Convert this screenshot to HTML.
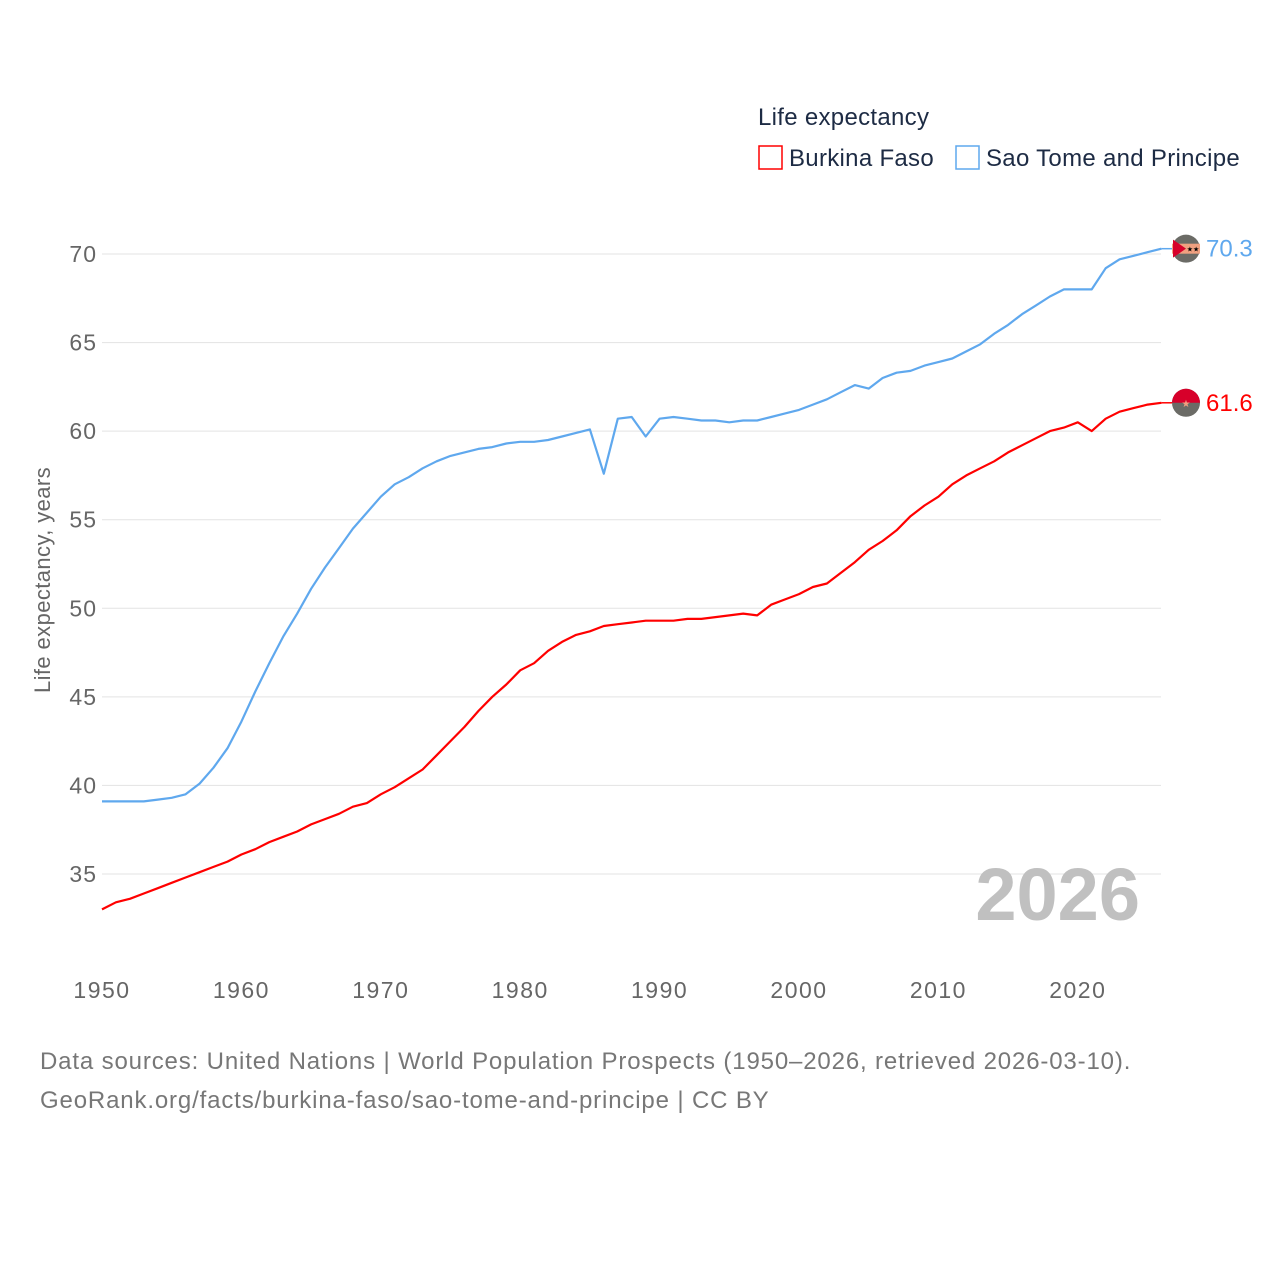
<!DOCTYPE html>
<html><head><meta charset="utf-8"><style>
body{margin:0;background:#fff;width:1280px;height:1280px;overflow:hidden;font-family:"Liberation Sans",sans-serif}
</style></head><body>
<svg width="1280" height="1280" style="position:absolute;left:0;top:0">
<g font-family="Liberation Sans, sans-serif">
<text x="758" y="125" font-size="24" letter-spacing="0.3" fill="#1d2b44">Life expectancy</text>
<g><rect x="759" y="146" width="23" height="23" fill="none" stroke="#ff0000" stroke-width="1.5"/><text x="789" y="166" font-size="24" letter-spacing="0.3" fill="#1d2b44">Burkina Faso</text></g>
<g><rect x="956" y="146" width="23" height="23" fill="none" stroke="#5fa8ee" stroke-width="1.5"/><text x="986" y="166" font-size="24" letter-spacing="0.3" fill="#1d2b44">Sao Tome and Principe</text></g>
<text transform="translate(50,580) rotate(-90)" text-anchor="middle" font-size="22" letter-spacing="0.4" fill="#666">Life expectancy, years</text>
<g id="grid"></g><g id="yt"></g><g id="xt"></g>
<text x="1140" y="920" text-anchor="end" font-size="74" font-weight="bold" fill="#c0c0c0">2026</text>
<g id="lines"></g>
<text x="40" y="1069" font-size="24" letter-spacing="0.85" fill="#777">Data sources: United Nations | World Population Prospects (1950–2026, retrieved 2026-03-10).</text>
<text x="40" y="1108" font-size="24" letter-spacing="0.85" fill="#777">GeoRank.org/facts/burkina-faso/sao-tome-and-principe | CC BY</text>
</g></svg>
<script>
const yTicks=[35,40,45,50,55,60,65,70];
const xTicks=[1950,1960,1970,1980,1990,2000,2010,2020];
const startYear=1950;
const burkina=[33.0,33.4,33.6,33.9,34.2,34.5,34.8,35.1,35.4,35.7,36.1,36.4,36.8,37.1,37.4,37.8,38.1,38.4,38.8,39.0,39.5,39.9,40.4,40.9,41.7,42.5,43.3,44.2,45.0,45.7,46.5,46.9,47.6,48.1,48.5,48.7,49.0,49.1,49.2,49.3,49.3,49.3,49.4,49.4,49.5,49.6,49.7,49.6,50.2,50.5,50.8,51.2,51.4,52.0,52.6,53.3,53.8,54.4,55.2,55.8,56.3,57.0,57.5,57.9,58.3,58.8,59.2,59.6,60.0,60.2,60.5,60.0,60.7,61.1,61.3,61.5,61.6];
const saoTome=[39.1,39.1,39.1,39.1,39.2,39.3,39.5,40.1,41.0,42.1,43.6,45.3,46.9,48.4,49.7,51.1,52.3,53.4,54.5,55.4,56.3,57.0,57.4,57.9,58.3,58.6,58.8,59.0,59.1,59.3,59.4,59.4,59.5,59.7,59.9,60.1,57.6,60.7,60.8,59.7,60.7,60.8,60.7,60.6,60.6,60.5,60.6,60.6,60.8,61.0,61.2,61.5,61.8,62.2,62.6,62.4,63.0,63.3,63.4,63.7,63.9,64.1,64.5,64.9,65.5,66.0,66.6,67.1,67.6,68.0,68.0,68.0,69.2,69.7,69.9,70.1,70.3];
const X=yr=>102+(yr-1950)*13.94;
const Y=v=>254+(70-v)*17.714;
const NS='http://www.w3.org/2000/svg';
function mk(t,a,p){const e=document.createElementNS(NS,t);for(const k in a)e.setAttribute(k,a[k]);p.appendChild(e);return e;}
const grid=document.getElementById('grid'),yt=document.getElementById('yt'),xt=document.getElementById('xt'),lines=document.getElementById('lines');
yTicks.forEach(v=>{
 const l=mk('line',{x1:102,x2:1161,y1:Y(v),y2:Y(v),stroke:'#e3e3e3','stroke-width':1},grid);
 
 
 const t=mk('text',{x:97,y:Y(v)+8,'text-anchor':'end','font-size':23,'letter-spacing':1,fill:'#666'},yt);t.textContent=v;
 
 
});
xTicks.forEach(v=>{
 const t=mk('text',{x:X(v),y:998,'text-anchor':'middle','font-size':23,'letter-spacing':1.5,fill:'#666'},xt);t.textContent=v;
 
 
});
function series(vals,color,name,label){
 const d=vals.map((v,i)=>(i?'L':'M')+X(startYear+i).toFixed(1)+','+Y(v).toFixed(1)).join('');
 const p=mk('path',{d:d,fill:'none',stroke:color,'stroke-width':2.2,'stroke-linejoin':'round'},lines);
 
 
 const last=vals[vals.length-1],ly=Y(last),lx=X(startYear+vals.length-1);
 mk('line',{x1:lx,x2:1172,y1:ly,y2:ly,stroke:color,'stroke-width':1.5},lines);
 const g=mk('g',{},lines);
 
 
 mk('circle',{cx:1186,cy:ly,r:14,fill:'#6b6b66'},g);
 if(name==='burkina-faso'){
  mk('path',{d:`M1172,${ly}A14,14 0 0 1 1200,${ly}Z`,fill:'#d7002a'},g);
  mk('text',{x:1186,y:ly+4,'text-anchor':'middle','font-size':10,fill:'#f0a080'},g).textContent='★';
 } else {
  mk('rect',{x:1172,y:ly-5,width:28,height:10,fill:'#f0a080'},g);
  mk('path',{d:`M1173,${ly-9}L1186,${ly}L1173,${ly+9}Z`,fill:'#d7002a'},g);
  mk('text',{x:1193,y:ly+3,'text-anchor':'middle','font-size':7,fill:'#000'},g).textContent='★★';
 }
 const t=mk('text',{x:1206,y:ly+8,'font-size':24,fill:color},lines);t.textContent=label;
 
 
}
series(saoTome,'#5fa8ee','sao-tome',saoTome[saoTome.length-1].toFixed(1));
series(burkina,'#ff0000','burkina-faso',burkina[burkina.length-1].toFixed(1));
</script>
</body></html>
